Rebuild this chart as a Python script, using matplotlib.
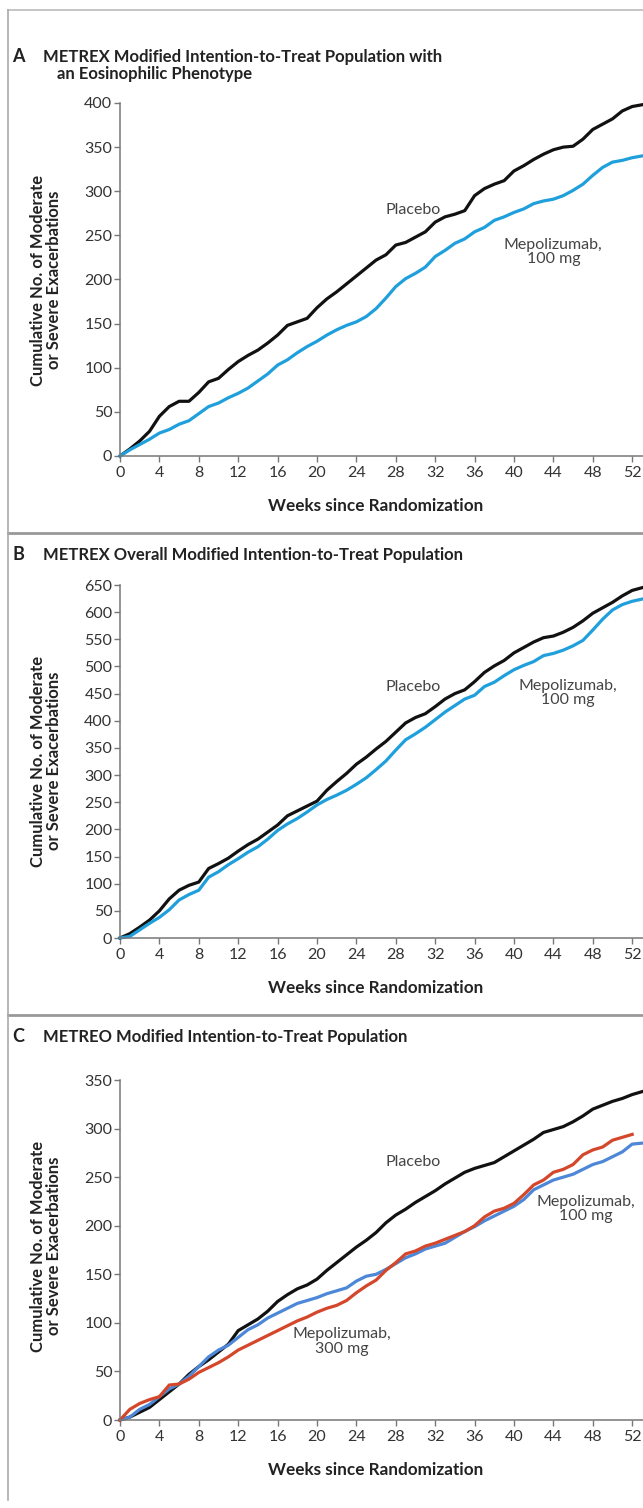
import matplotlib
matplotlib.use("Agg")
import matplotlib.pyplot as plt
from matplotlib.lines import Line2D

plt.rcParams['font.family'] = ['Lato', 'DejaVu Sans']

# weeks since randomization (read at one-week steps)
weeks = list(range(0, 54))

# panel A: METREX eosinophilic phenotype
a_placebo = [0, 8, 17, 28, 45, 56, 62, 62, 72, 84, 88, 98, 107, 114, 120, 128, 137, 148,
             152, 156, 168, 178, 186, 195, 204, 213, 222, 228, 239, 242, 248, 254, 265,
             271, 274, 278, 295, 303, 308, 312, 323, 329, 336, 342, 347, 350, 351, 359,
             370, 376, 382, 391, 396, 398]
a_mepo100 = [0, 7, 13, 19, 26, 30, 36, 40, 48, 56, 60, 66, 71, 77, 85, 93, 103, 109,
             117, 124, 130, 137, 143, 148, 152, 158, 167, 179, 192, 201, 207, 214, 226,
             233, 241, 246, 254, 259, 267, 271, 276, 280, 286, 289, 291, 295, 301, 308,
             318, 327, 333, 335, 338, 340]

# panel B: METREX overall
b_placebo = [0, 8, 20, 33, 50, 72, 88, 97, 103, 128, 137, 147, 160, 172, 182, 195, 208,
             225, 234, 243, 252, 272, 288, 303, 320, 333, 348, 362, 379, 396, 406, 413,
             426, 440, 450, 457, 472, 489, 501, 511, 525, 535, 545, 553, 556, 563, 572,
             584, 598, 608, 618, 630, 640, 645]
b_mepo100 = [0, 3, 15, 27, 38, 52, 70, 80, 88, 112, 122, 135, 146, 158, 168, 182, 198,
             210, 220, 232, 245, 255, 263, 272, 283, 295, 310, 326, 346, 365, 376, 388,
             402, 416, 428, 440, 447, 463, 471, 483, 494, 502, 509, 520, 524, 530, 538,
             548, 567, 587, 604, 614, 620, 624]

# panel C: METREO
c_placebo = [0, 3, 8, 13, 21, 29, 37, 47, 55, 62, 70, 78, 92, 98, 104, 112, 122, 129,
             135, 139, 145, 154, 162, 170, 178, 185, 193, 203, 211, 217, 224, 230, 236,
             243, 249, 255, 259, 262, 265, 271, 277, 283, 289, 296, 299, 302, 307, 313,
             320, 324, 328, 331, 335, 338]
c_mepo100 = [0, 3, 11, 16, 24, 32, 37, 45, 55, 65, 72, 77, 85, 93, 98, 105, 110, 115,
             120, 123, 126, 130, 133, 136, 143, 148, 150, 155, 161, 167, 171, 176, 179,
             182, 188, 194, 199, 205, 210, 215, 220, 227, 237, 242, 247, 250, 253, 258,
             263, 266, 271, 276, 284, 285]
c_mepo300 = [0, 11, 17, 21, 24, 36, 37, 42, 49, 54, 59, 65, 72, 77, 82, 87, 92, 97, 102,
             106, 111, 115, 118, 123, 131, 138, 144, 154, 162, 171, 174, 179, 182, 186,
             190, 194, 200, 209, 215, 218, 223, 232, 242, 247, 255, 258, 263, 273, 278,
             281, 288, 291, 294]

x_ticks = list(range(0, 53, 4))

BLACK = '#111111'
BLUE = '#1f9fdc'
BLUE_C = '#4d88d8'
RED = '#d4472a'
DARK = '#222222'

W, H = 643, 1508
fig = plt.figure(figsize=(W / 100, H / 100), dpi=100)


def fx(px):
    return px / W


def fy(py):
    return 1 - py / H


def make_axes(top, bottom, ymax, ystep):
    ax = fig.add_axes([fx(120), fy(bottom), 1 - fx(120), (bottom - top) / H])
    ax.set_xlim(0, 53.1)
    ax.set_ylim(0, ymax)
    ax.set_xticks(x_ticks)
    ax.set_yticks(range(0, ymax + 1, ystep))
    for s in ['top', 'right']:
        ax.spines[s].set_visible(False)
    for s in ['left', 'bottom']:
        ax.spines[s].set_color('#777777')
        ax.spines[s].set_linewidth(1.1)
    ax.tick_params(length=4, width=1.0, color='#777777', labelsize=11.5,
                   labelcolor='#333333')
    ax.tick_params(axis='x', pad=3)
    ax.tick_params(axis='y', pad=1.5)
    return ax


def ylabel(yc):
    fig.text(fx(46), fy(yc), 'Cumulative No. of Moderate\nor Severe Exacerbations',
             rotation=90, ha='center', va='center', fontsize=12, fontweight='bold',
             color=DARK, linespacing=1.05)


def xlabel(yc):
    fig.text(fx(376), fy(yc), 'Weeks since Randomization', ha='center', va='center',
             fontsize=12.3, fontweight='bold', color=DARK)


def title(yc, letter, s):
    fig.text(fx(12), fy(yc), letter, fontsize=13, fontweight='bold', va='center', color=DARK)
    fig.text(fx(43), fy(yc), s, fontsize=12, fontweight='bold', va='center', color=DARK)


def label(ax, x, y, s):
    ax.text(x, y, s, ha='center', va='center', fontsize=11.5, color='#444444',
            linespacing=1.05)


# frame lines
for yy in [533, 1015]:
    fig.add_artist(Line2D([fx(8), 1], [fy(yy), fy(yy)], color='#999999', lw=2))
fig.add_artist(Line2D([fx(8), 1], [fy(10), fy(10)], color='#bbbbbb', lw=1.2))
fig.add_artist(Line2D([fx(8), fx(8)], [fy(10), fy(1500)], color='#aaaaaa', lw=1.2))

# panel A
ax = make_axes(103, 456, 400, 50)
ax.plot(weeks, a_placebo, color=BLACK, lw=2.3, clip_on=False)
ax.plot(weeks, a_mepo100, color=BLUE, lw=2.3, clip_on=False)
label(ax, 29.8, 279, 'Placebo')
label(ax, 44.0, 231, 'Mepolizumab,\n100 mg')
title(57, 'A', 'METREX Modified Intention-to-Treat Population with')
fig.text(fx(57), fy(74), 'an Eosinophilic Phenotype',
         fontsize=12, fontweight='bold', va='center', color=DARK)
ylabel(280)
xlabel(506)

# panel B
ax = make_axes(585, 938, 650, 50)
ax.plot(weeks, b_placebo, color=BLACK, lw=2.3, clip_on=False)
ax.plot(weeks, b_mepo100, color=BLUE, lw=2.3, clip_on=False)
label(ax, 29.8, 462, 'Placebo')
label(ax, 45.5, 451, 'Mepolizumab,\n100 mg')
title(555, 'B', 'METREX Overall Modified Intention-to-Treat Population')
ylabel(761)
xlabel(988)

# panel C
ax = make_axes(1080, 1420, 350, 50)
ax.plot(weeks, c_placebo, color=BLACK, lw=2.3, clip_on=False)
ax.plot(weeks, c_mepo100, color=BLUE_C, lw=2.3, clip_on=False)
ax.plot(weeks[:len(c_mepo300)], c_mepo300, color=RED, lw=2.3, clip_on=False)
label(ax, 29.8, 266, 'Placebo')
label(ax, 47.3, 217, 'Mepolizumab,\n100 mg')
label(ax, 22.5, 81, 'Mepolizumab,\n300 mg')
title(1037, 'C', 'METREO Modified Intention-to-Treat Population')
ylabel(1246)
xlabel(1470)

fig.savefig('out.png', dpi=100)
